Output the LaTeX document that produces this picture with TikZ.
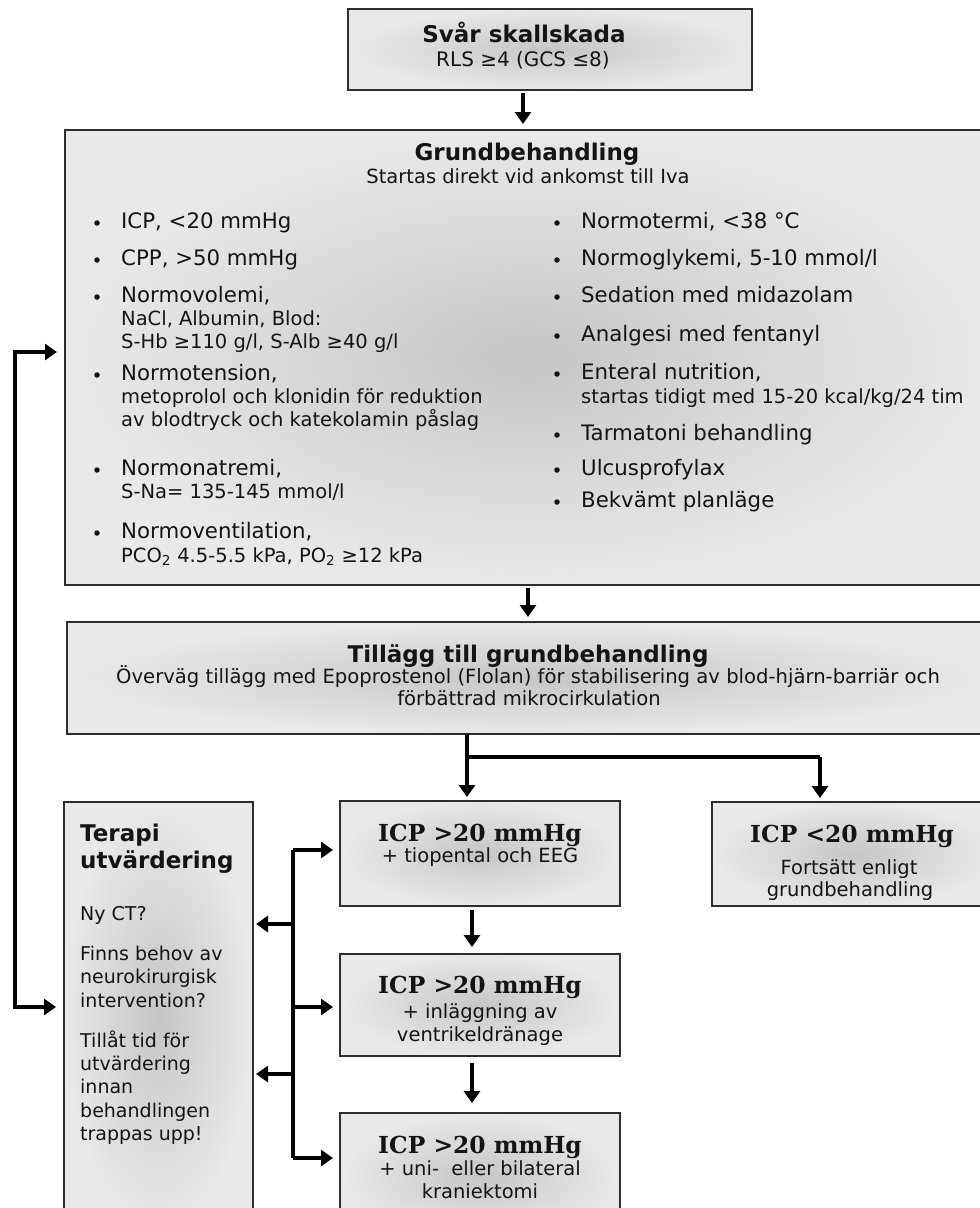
\documentclass[tikz,border=0pt]{standalone}
\usepackage{fontspec}
\setmainfont{DejaVu Sans}
\newfontfamily\dvserif{DejaVu Serif}
\usetikzlibrary{arrows.meta}
\definecolor{shIn}{RGB}{198,198,198}
\definecolor{shOut}{RGB}{233,233,233}
\definecolor{edgec}{RGB}{45,45,45}
\definecolor{ink}{RGB}{20,20,20}
\newcommand\fsz[1]{\fontsize{#1pt}{#1pt}\selectfont}
\begin{document}
\begin{tikzpicture}[x=1pt,y=-1pt,
 box/.style={draw=edgec, line width=2pt, inner color=shIn, outer color=shOut, inner sep=0pt, outer sep=0pt},
 tl/.style={anchor=base west, inner sep=0pt, text=ink},
 tc/.style={anchor=base, inner sep=0pt, text=ink},
 mainf/.style={font=\fsz{21.3}},
 subf/.style={font=\fsz{19.5}},
 headf/.style={font=\fsz{23}\bfseries},
 bodyf/.style={font=\fsz{19}},
 icph/.style={font=\dvserif\fsz{23.4}\bfseries},
 conn/.style={line width=3.6pt, draw=black, line join=miter},
 arr/.style={conn, -{Triangle[length=12pt,width=16pt]}},
 darr/.style={conn, {Triangle[length=12pt,width=16pt]}-{Triangle[length=12pt,width=16pt]}},
 bul/.style={circle, fill=ink, inner sep=0pt, minimum size=5.5pt}
]
\useasboundingbox (0,0) rectangle (980,1208);
\fill[white] (0,0) rectangle (980,1208);
\clip (0,0) rectangle (980,1208);

% boxes
\node[box, minimum width=404pt, minimum height=81pt] (top) at (550,49.5) {};
\node[box, minimum width=928pt, minimum height=455pt] (grund) at (529,357.5) {};
\node[box, minimum width=926pt, minimum height=112pt] (till) at (530,678) {};
\node[box, minimum width=189pt, minimum height=428pt] (terapi) at (158.5,1016) {};
\node[box, minimum width=280pt, minimum height=105pt] (icp1) at (480,853.5) {};
\node[box, minimum width=280pt, minimum height=102pt] (icp2) at (480,1005) {};
\node[box, minimum width=280pt, minimum height=127pt] (icp3) at (480,1176.5) {};
\node[box, minimum width=283pt, minimum height=104pt] (icp4) at (853.5,854) {};

% top box text
\node[tc, headf] (t1) at (524,42) {Svår skallskada};
\node[tc, font=\fsz{20}] (t2) at (523,66) {RLS ≥4 (GCS ≤8)};

% Grundbehandling
\node[tc, headf] (g1) at (527,160) {Grundbehandling};
\node[tc, subf] (g2) at (528,183) {Startas direkt vid ankomst till Iva};

% left column
\node[bul] (lb1) at (97,223) {};
\node[tl, mainf] (l1) at (121,228) {ICP, <20 mmHg};
\node[bul] (lb2) at (97,260) {};
\node[tl, mainf] (l2) at (121,265) {CPP, >50 mmHg};
\node[bul] (lb3) at (97,297) {};
\node[tl, mainf] (l3) at (121,302) {Normovolemi,};
\node[tl, subf] (l3a) at (121,325) {NaCl, Albumin, Blod:};
\node[tl, subf] (l3b) at (121,348) {S-Hb ≥110 g/l, S-Alb ≥40 g/l};
\node[bul] (lb4) at (97,375) {};
\node[tl, mainf] (l4) at (121,380) {Normotension,};
\node[tl, subf] (l4a) at (121,403) {metoprolol och klonidin för reduktion};
\node[tl, subf] (l4b) at (121,426) {av blodtryck och katekolamin påslag};
\node[bul] (lb5) at (97,470) {};
\node[tl, mainf] (l5) at (121,475) {Normonatremi,};
\node[tl, subf] (l5a) at (121,498) {S-Na= 135-145 mmol/l};
\node[bul] (lb6) at (97,533) {};
\node[tl, mainf] (l6) at (121,538) {Normoventilation,};
\node[tl, subf] (l6a) at (121,562) {PCO\textsubscript{2} 4.5-5.5 kPa, PO\textsubscript{2} ≥12 kPa};

% right column
\node[bul] (rb1) at (557,223) {};
\node[tl, mainf] (r1) at (581,228) {Normotermi, <38 °C};
\node[bul] (rb2) at (557,260) {};
\node[tl, mainf] (r2) at (581,265) {Normoglykemi, 5-10 mmol/l};
\node[bul] (rb3) at (557,297) {};
\node[tl, mainf] (r3) at (581,302) {Sedation med midazolam};
\node[bul] (rb4) at (557,336) {};
\node[tl, mainf] (r4) at (581,341) {Analgesi med fentanyl};
\node[bul] (rb5) at (557,374) {};
\node[tl, mainf] (r5) at (581,379) {Enteral nutrition,};
\node[tl, subf] (r5a) at (581,403) {startas tidigt med 15-20 kcal/kg/24 tim};
\node[bul] (rb6) at (557,435) {};
\node[tl, mainf] (r6) at (581,440) {Tarmatoni behandling};
\node[bul] (rb7) at (557,470) {};
\node[tl, mainf] (r7) at (581,475) {Ulcusprofylax};
\node[bul] (rb8) at (557,502) {};
\node[tl, mainf] (r8) at (581,507) {Bekvämt planläge};

% Tillägg
\node[tc, headf] (ti1) at (528,662) {Tillägg till grundbehandling};
\node[tc, font=\fsz{19.6}] (ti2) at (528,683) {Överväg tillägg med Epoprostenol (Flolan) för stabilisering av blod-hjärn-barriär och};
\node[tc, font=\fsz{19.6}] (ti3) at (529,705) {förbättrad mikrocirkulation};

% Terapi utvärdering
\node[tl, headf] (tp1) at (80,841) {Terapi};
\node[tl, headf] (tp2) at (80,868) {utvärdering};
\node[tl, bodyf] (tp3) at (80,920) {Ny CT?};
\node[tl, bodyf] (tp4) at (80,960) {Finns behov av};
\node[tl, bodyf] (tp5) at (80,983) {neurokirurgisk};
\node[tl, bodyf] (tp6) at (80,1007) {intervention?};
\node[tl, bodyf] (tp7) at (80,1047) {Tillåt tid för};
\node[tl, bodyf] (tp8) at (80,1070) {utvärdering};
\node[tl, bodyf] (tp9) at (80,1093) {innan};
\node[tl, bodyf] (tp10) at (80,1117) {behandlingen};
\node[tl, bodyf] (tp11) at (80,1140) {trappas upp!};

% ICP boxes
\node[tc, icph] (i1a) at (480,841) {ICP >20 mmHg};
\node[tc, subf] (i1b) at (480,862) {+ tiopental och EEG};
\node[tc, icph] (i2a) at (480,993) {ICP >20 mmHg};
\node[tc, subf] (i2b) at (480,1018) {+ inläggning av};
\node[tc, subf] (i2c) at (480,1041) {ventrikeldränage};
\node[tc, icph] (i3a) at (480,1153) {ICP >20 mmHg};
\node[tc, subf] (i3b) at (480,1175) {+ uni-\ \ eller bilateral};
\node[tc, subf] (i3c) at (480,1198) {kraniektomi};
\node[tc, icph] (i4a) at (852,842) {ICP <20 mmHg};
\node[tc, subf] (i4b) at (849,874) {Fortsätt enligt};
\node[tc, subf] (i4c) at (850,896) {grundbehandling};

% connectors
\coordinate (ax1) at (523,0);
\coordinate (ax2) at (528,0);
\coordinate (br) at (467,757);
\coordinate (brR) at (820,757);
\coordinate (ax3) at (472,0);
\coordinate (fb1) at (15,352);
\coordinate (fb2) at (15,1007);
\coordinate (bus1) at (293,850);
\coordinate (bus2) at (293,1007);
\coordinate (bus3) at (293,1158);
\coordinate (busL1) at (293,924);
\coordinate (busL2) at (293,1074);

\draw[arr, shorten <=3pt, shorten >=6pt] (top.south -| ax1) -- (grund.north -| ax1);
\draw[arr, shorten <=3pt, shorten >=5pt] (grund.south -| ax2) -- (till.north -| ax2);
\draw[conn] (till.south -| br) -- (br) -- (brR);
\draw[arr, shorten >=4pt] (br) -- (icp1.north -| br);
\draw[arr, shorten >=4pt] (brR) -- (icp4.north -| brR);
\draw[arr, shorten <=4pt, shorten >=7pt] (icp1.south -| ax3) -- (icp2.north -| ax3);
\draw[arr, shorten <=7pt, shorten >=10pt] (icp2.south -| ax3) -- (icp3.north -| ax3);
\draw[darr, shorten <=8pt, shorten >=8pt] (grund.west |- fb1) -- (fb1) -- (fb2) -- (terapi.west |- fb2);
\draw[conn] (bus1) -- (bus3);
\draw[arr, shorten >=7pt] (bus1) -- (icp1.west |- bus1);
\draw[arr, shorten >=7pt] (bus2) -- (icp2.west |- bus2);
\draw[arr, shorten >=7pt] (bus3) -- (icp3.west |- bus3);
\draw[arr, shorten >=3pt] (busL1) -- (terapi.east |- busL1);
\draw[arr, shorten >=3pt] (busL2) -- (terapi.east |- busL2);
\end{tikzpicture}
\end{document}
